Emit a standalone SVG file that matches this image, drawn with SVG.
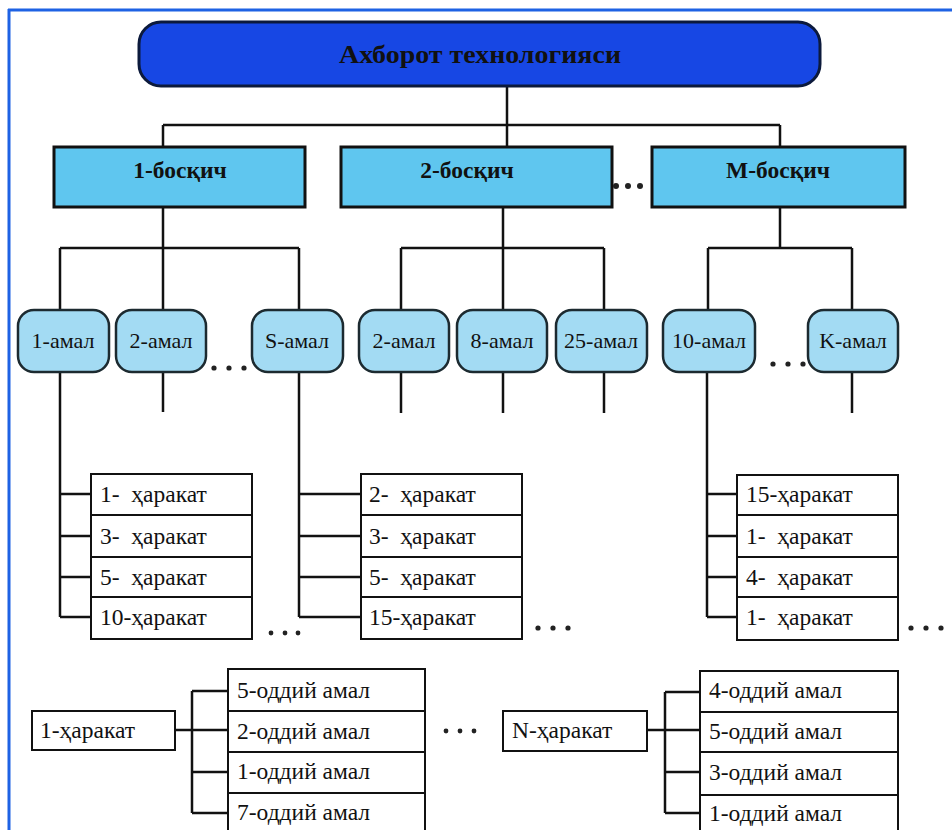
<svg xmlns="http://www.w3.org/2000/svg" width="952" height="830" viewBox="0 0 952 830">
<defs>
<style>
.ln{stroke:#111;stroke-width:2.5;fill:none}
.hdr{fill:#1747e4;stroke:#0c1a3c;stroke-width:3}
.step{fill:#5fc6ef;stroke:#111;stroke-width:3}
.amal{fill:#a3dbf3;stroke:#1c2a30;stroke-width:2.5}
.box{fill:#fff;stroke:#111;stroke-width:2}
.t{font-family:"Liberation Serif","Times New Roman",serif;fill:#111}
.tb{font-family:"Liberation Serif","Times New Roman",serif;font-weight:bold;fill:#111}
.lt{font-size:23.5px}
.at{font-size:22px}
.dot{fill:#222}
</style>
</defs>
<rect x="0" y="0" width="952" height="830" fill="#fff"/>
<g id="frame">
<line x1="8" y1="10" x2="952" y2="10" stroke="#1e62e4" stroke-width="3"/>
<line x1="9" y1="9" x2="9" y2="830" stroke="#1e62e4" stroke-width="3"/>
</g>
<g id="connectors">
<path class="ln" d="M507 86V147M163 125H780M163 125V147M780 125V147"/>
<path class="ln" d="M163 207V248M60 248H299M60 248V310M163 248V310M299 248V310"/>
<path class="ln" d="M503 207V248M401 248H604M401 248V310M503 248V310M604 248V310"/>
<path class="ln" d="M780 207V248M708 248H852M708 248V310M852 248V310"/>
<path class="ln" d="M163 372V412M401 372V413M503 372V413M604 372V413M852 372V413"/>
<path class="ln" d="M60 372V617M60 494H91M60 536H91M60 577H91M60 617H91"/>
<path class="ln" d="M299 372V617M299 494H361M299 536H361M299 577H361M299 617H361"/>
<path class="ln" d="M707 372V617M707 494H737M707 536H737M707 577H737M707 617H737"/>
<path class="ln" d="M175 730H228M192 691V813M192 691H228M192 772H228M192 813H228"/>
<path class="ln" d="M647 730H700M665 692V813M665 692H700M665 772H700M665 813H700"/>
</g>
<g id="header">
<rect class="hdr" x="139" y="22" width="681" height="64" rx="22"/>
<text class="tb" x="480" y="63" font-size="25" text-anchor="middle" textLength="282" lengthAdjust="spacingAndGlyphs">Ахборот технологияси</text>
</g>
<g id="step1"><rect class="step" x="54" y="147" width="251" height="60"/><text class="tb" x="180" y="178" font-size="23.5" text-anchor="middle">1-босқич</text></g>
<g id="step2"><rect class="step" x="341" y="147" width="271" height="60"/><text class="tb" x="467" y="178" font-size="23.5" text-anchor="middle">2-босқич</text></g>
<g id="stepM"><rect class="step" x="652" y="147" width="253" height="60"/><text class="tb" x="778" y="178" font-size="23.5" text-anchor="middle">M-босқич</text></g>
<g id="amal1"><rect class="amal" x="18" y="310" width="91" height="62" rx="16"/><text class="t at" x="63" y="348" text-anchor="middle">1-амал</text></g>
<g id="amal2"><rect class="amal" x="116" y="310" width="90" height="62" rx="16"/><text class="t at" x="161" y="348" text-anchor="middle">2-амал</text></g>
<g id="amalS"><rect class="amal" x="252" y="310" width="91" height="62" rx="16"/><text class="t at" x="297" y="348" text-anchor="middle">S-амал</text></g>
<g id="amal2b"><rect class="amal" x="359" y="310" width="90" height="62" rx="16"/><text class="t at" x="404" y="348" text-anchor="middle">2-амал</text></g>
<g id="amal8"><rect class="amal" x="457" y="310" width="90" height="62" rx="16"/><text class="t at" x="502" y="348" text-anchor="middle">8-амал</text></g>
<g id="amal25"><rect class="amal" x="556" y="310" width="91" height="62" rx="16"/><text class="t at" x="601" y="348" text-anchor="middle">25-амал</text></g>
<g id="amal10"><rect class="amal" x="663" y="310" width="92" height="62" rx="16"/><text class="t at" x="709" y="348" text-anchor="middle">10-амал</text></g>
<g id="amalK"><rect class="amal" x="808" y="310" width="90" height="62" rx="16"/><text class="t at" x="853" y="348" text-anchor="middle">K-амал</text></g>
<g id="list1">
<rect class="box" x="91" y="474" width="161" height="41"/><text class="t lt" x="100" y="502" xml:space="preserve">1-  ҳаракат</text>
<rect class="box" x="91" y="515" width="161" height="42"/><text class="t lt" x="100" y="544" xml:space="preserve">3-  ҳаракат</text>
<rect class="box" x="91" y="557" width="161" height="40"/><text class="t lt" x="100" y="585" xml:space="preserve">5-  ҳаракат</text>
<rect class="box" x="91" y="597" width="161" height="42"/><text class="t lt" x="100" y="625">10-ҳаракат</text>
</g>
<g id="list2">
<rect class="box" x="361" y="474" width="161" height="41"/><text class="t lt" x="369" y="502" xml:space="preserve">2-  ҳаракат</text>
<rect class="box" x="361" y="515" width="161" height="42"/><text class="t lt" x="369" y="544" xml:space="preserve">3-  ҳаракат</text>
<rect class="box" x="361" y="557" width="161" height="40"/><text class="t lt" x="369" y="585" xml:space="preserve">5-  ҳаракат</text>
<rect class="box" x="361" y="597" width="161" height="42"/><text class="t lt" x="369" y="625">15-ҳаракат</text>
</g>
<g id="list3">
<rect class="box" x="737" y="475" width="161" height="40"/><text class="t lt" x="746" y="502">15-ҳаракат</text>
<rect class="box" x="737" y="515" width="161" height="42"/><text class="t lt" x="746" y="544" xml:space="preserve">1-  ҳаракат</text>
<rect class="box" x="737" y="557" width="161" height="40"/><text class="t lt" x="746" y="585" xml:space="preserve">4-  ҳаракат</text>
<rect class="box" x="737" y="597" width="161" height="43"/><text class="t lt" x="746" y="625" xml:space="preserve">1-  ҳаракат</text>
</g>
<g id="harakat1"><rect class="box" x="32" y="711" width="143" height="39"/><text class="t lt" x="40" y="738">1-ҳаракат</text></g>
<g id="oddiy1">
<rect class="box" x="228" y="669" width="197" height="42"/><text class="t lt" x="237" y="698">5-оддий амал</text>
<rect class="box" x="228" y="711" width="197" height="41"/><text class="t lt" x="237" y="739">2-оддий амал</text>
<rect class="box" x="228" y="752" width="197" height="41"/><text class="t lt" x="237" y="779">1-оддий амал</text>
<rect class="box" x="228" y="793" width="197" height="45"/><text class="t lt" x="237" y="820">7-оддий амал</text>
</g>
<g id="harakatN"><rect class="box" x="503" y="711" width="144" height="40"/><text class="t lt" x="512" y="738">N-ҳаракат</text></g>
<g id="oddiyN">
<rect class="box" x="700" y="671" width="198" height="41"/><text class="t lt" x="709" y="698">4-оддий амал</text>
<rect class="box" x="700" y="712" width="198" height="40"/><text class="t lt" x="709" y="739">5-оддий амал</text>
<rect class="box" x="700" y="752" width="198" height="43"/><text class="t lt" x="709" y="780">3-оддий амал</text>
<rect class="box" x="700" y="795" width="198" height="43"/><text class="t lt" x="709" y="821">1-оддий амал</text>
</g>
<g id="dots">
<circle class="dot" cx="616" cy="186" r="3"/><circle class="dot" cx="628" cy="186" r="3"/><circle class="dot" cx="640" cy="186" r="3"/>
<circle class="dot" cx="214" cy="368" r="2.6"/><circle class="dot" cx="229" cy="368" r="2.6"/><circle class="dot" cx="244" cy="368" r="2.6"/>
<circle class="dot" cx="773" cy="364" r="2.6"/><circle class="dot" cx="788" cy="364" r="2.6"/><circle class="dot" cx="803" cy="364" r="2.6"/>
<circle class="dot" cx="271" cy="633" r="2.4"/><circle class="dot" cx="285" cy="633" r="2.4"/><circle class="dot" cx="298" cy="633" r="2.4"/>
<circle class="dot" cx="538" cy="628" r="2.6"/><circle class="dot" cx="553" cy="628" r="2.6"/><circle class="dot" cx="568" cy="628" r="2.6"/>
<circle class="dot" cx="911" cy="628" r="2.6"/><circle class="dot" cx="926" cy="628" r="2.6"/><circle class="dot" cx="941" cy="628" r="2.6"/>
<circle class="dot" cx="446" cy="731" r="2.4"/><circle class="dot" cx="460" cy="731" r="2.4"/><circle class="dot" cx="474" cy="731" r="2.4"/>
</g>
</svg>
